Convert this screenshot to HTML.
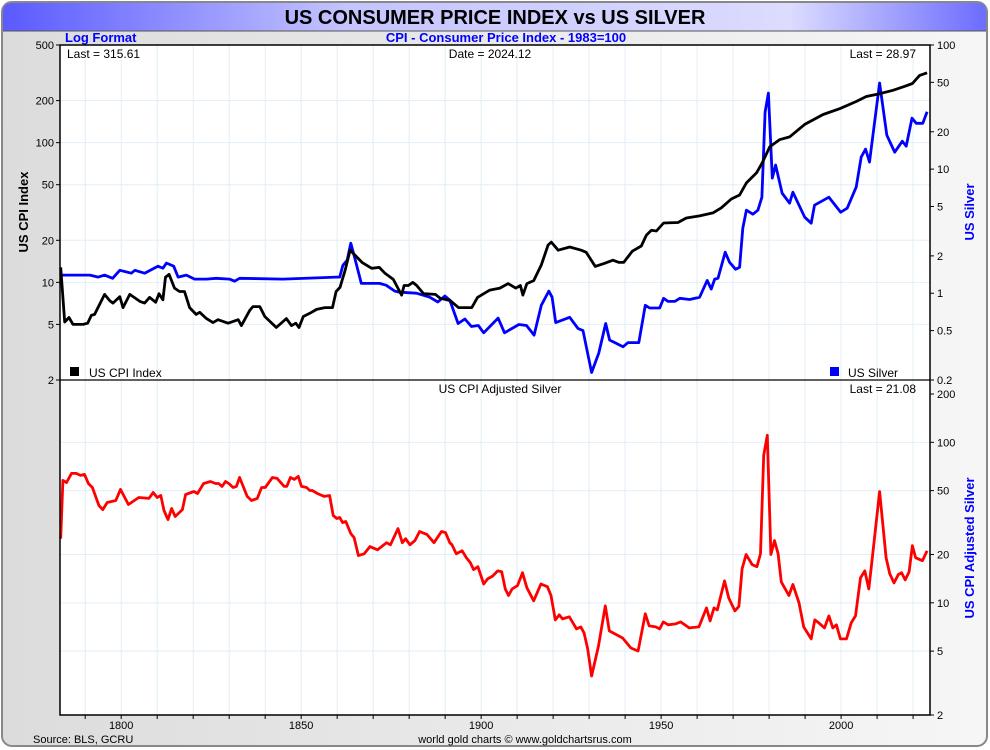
<!DOCTYPE html>
<html><head><meta charset="utf-8">
<style>
body{margin:0;background:#fff;width:990px;height:750px;overflow:hidden;font-family:"Liberation Sans",sans-serif;}
svg{display:block}
text{font-family:"Liberation Sans",sans-serif}
</style></head>
<body>
<svg id="chart" width="990" height="750" viewBox="0 0 990 750">
<defs>
<linearGradient id="bgG" x1="0" x2="1" y1="0" y2="0"><stop offset="0" stop-color="#dcdcdc"/><stop offset="1" stop-color="#f6f6f6"/></linearGradient>
<linearGradient id="titleG" x1="0" x2="1" y1="0" y2="0"><stop offset="0" stop-color="#5a5aff"/><stop offset="0.35" stop-color="#c4c4ff"/><stop offset="0.8" stop-color="#dcdcff"/><stop offset="1" stop-color="#6c6cff"/></linearGradient>
</defs>
<rect x="2" y="2" width="985" height="744" rx="10" fill="url(#bgG)" stroke="#888" stroke-width="2"/>
<path d="M3,31 L3,12 Q3,3 12,3 L977,3 Q986,3 986,12 L986,31 Z" fill="url(#titleG)"/>
<line x1="3" y1="31" x2="986" y2="31" stroke="#555" stroke-width="1"/>
<text x="495" y="24" text-anchor="middle" font-size="20" font-weight="bold" fill="#000">US CONSUMER PRICE INDEX vs US SILVER</text>
<text x="65" y="42" font-size="13" font-weight="bold" fill="#0000ff">Log Format</text>
<text x="506" y="42" text-anchor="middle" font-size="13" font-weight="bold" fill="#0000ff">CPI - Consumer Price Index - 1983=100</text>
<rect x="60" y="45" width="870" height="670" fill="#fff"/>
<g id="grid"></g>
<g id="series"></g>
<rect x="60" y="45" width="870" height="670" fill="none" stroke="#000" stroke-width="1.5"/>
<line x1="60" y1="380" x2="930" y2="380" stroke="#000" stroke-width="1.2"/>
<g id="axes"></g>
<text x="67" y="58" font-size="12" fill="#000">Last = 315.61</text>
<text x="490" y="58" text-anchor="middle" font-size="12" fill="#000">Date = 2024.12</text>
<text x="916" y="58" text-anchor="end" font-size="12" fill="#000">Last = 28.97</text>
<text x="500" y="393" text-anchor="middle" font-size="12" fill="#000">US CPI Adjusted Silver</text>
<text x="916" y="393" text-anchor="end" font-size="12" fill="#000">Last = 21.08</text>
<g><rect x="70" y="367" width="9" height="9" fill="#000"/><text x="89" y="377" font-size="12">US CPI Index</text></g>
<g><rect x="830" y="367" width="9" height="9" fill="#0000ff"/><text x="848" y="377" font-size="12">US Silver</text></g>
<text transform="translate(28,212) rotate(-90)" text-anchor="middle" font-size="13" font-weight="bold" fill="#000">US CPI Index</text>
<text transform="translate(974,212) rotate(-90)" text-anchor="middle" font-size="13" font-weight="bold" fill="#0000ff">US Silver</text>
<text transform="translate(974,548) rotate(-90)" text-anchor="middle" font-size="13" font-weight="bold" fill="#0000ff">US CPI Adjusted Silver</text>
<text x="33" y="743" font-size="11" fill="#000">Source: BLS, GCRU</text>
<text x="525" y="743" text-anchor="middle" font-size="11" fill="#000">world gold charts © www.goldchartsrus.com</text>
</svg>
<script>
const cpiYears=[1783.2,1784.3,1785.5,1786.6,1789.4,1790.7,1791.7,1792.6,1795.4,1796.8,1797.7,1799.6,1800.5,1802.4,1805.2,1806.5,1807.9,1809.6,1810.5,1811.6,1812.3,1813.3,1814.8,1816.2,1817.6,1819,1820.8,1821.8,1823.7,1825.5,1826.9,1829.7,1832.5,1833.4,1835.7,1836.6,1838.5,1839.9,1843.1,1845.9,1847.3,1848.5,1849.4,1850.6,1852.4,1854.3,1856.6,1858.7,1859.7,1860.8,1862.2,1863.6,1865,1866.9,1869.6,1871.7,1873.3,1875.6,1877.9,1878.6,1879.8,1881,1882.1,1884,1887.3,1888.6,1891.4,1893.7,1897.4,1899,1900.7,1902.4,1905.2,1907.5,1909.6,1910.9,1911.6,1912.7,1914.6,1916.7,1918.6,1919.5,1921.4,1924.6,1927.8,1929.2,1931.7,1934.3,1936.6,1938.3,1939.6,1942,1944.5,1945.9,1947.3,1948.7,1950.7,1954.7,1957,1960.7,1964.4,1966.7,1969.5,1971.8,1973.7,1976.5,1978.1,1980.2,1982.9,1985.7,1989.9,1995,1999.6,2004.2,2007,2010.7,2014.4,2017.7,2019.8,2021.8,2023.9];
const cpiValues=[12.8,5.2,5.6,5.0,5.0,5.1,5.8,5.9,8.2,7.4,7.1,7.9,6.6,8.2,7.3,7.1,7.8,7.2,8.3,7.5,10.9,11.4,9.1,8.6,8.6,6.6,5.9,6.1,5.5,5.15,5.4,5.1,5.4,4.9,6.3,6.7,6.7,5.7,4.75,5.5,4.9,5.1,4.75,5.7,6.0,6.4,6.6,6.6,8.6,9.2,12.2,17.0,15.6,13.9,12.6,12.8,11.6,10.5,8.1,9.5,9.5,10,9.5,8.3,8.2,7.7,7.4,6.6,6.6,7.8,8.3,8.8,9.1,9.8,9.1,9.5,8.1,9.8,10.3,13.3,18.5,19.4,17.0,17.9,17.0,16.4,13.0,13.7,14.4,13.9,13.9,16.7,18.2,21.8,23.6,23.3,26.6,26.8,28.9,29.9,31.4,34.1,39.5,42.2,51.5,60.7,71.8,93.5,105,110,135,159,175,197,214,224,237,253,265,303,316];
const silverYears=[1783.2,1785.7,1791.3,1793.6,1795.4,1797.6,1799.6,1802.8,1803.8,1806.5,1810.2,1811.6,1812.6,1814.6,1815.8,1818.1,1820.4,1823.7,1826.4,1830.1,1831.5,1832.9,1844.9,1859.8,1860.7,1861.6,1862.8,1863.8,1864.9,1866.7,1871.8,1873.6,1876,1877.4,1882,1885.7,1888,1889.9,1891.3,1893.6,1895.5,1897.3,1899.2,1900.7,1904.7,1906.5,1910.5,1912.6,1914.7,1916.7,1918.8,1919.7,1920.7,1924.6,1926.9,1928.3,1930.7,1932.7,1934.6,1935.7,1939.4,1940.8,1943.8,1945.6,1946.8,1949.6,1950.7,1951.9,1953.8,1955.2,1957.9,1960.7,1962.8,1963.9,1964.9,1965.8,1967.8,1969,1970.7,1971.8,1972.7,1973.7,1975.5,1976.9,1978,1978.9,1979.8,1980.9,1981.8,1983.6,1985.7,1986.6,1989.9,1991.7,1992.6,1996.6,1999.9,2001.7,2004.2,2005.6,2006.8,2007.9,2010.7,2012.7,2014.9,2017,2018.1,2019.7,2020.9,2022.7,2023.9];
const silverValues=[1.40,1.40,1.40,1.35,1.40,1.32,1.53,1.45,1.53,1.45,1.65,1.59,1.75,1.65,1.35,1.40,1.30,1.30,1.32,1.30,1.25,1.32,1.30,1.35,1.35,1.68,1.85,2.53,1.92,1.20,1.20,1.16,1.04,1.02,1.00,0.93,0.85,0.95,0.88,0.57,0.62,0.54,0.55,0.48,0.63,0.48,0.56,0.55,0.46,0.80,1.04,0.93,0.58,0.64,0.52,0.50,0.23,0.33,0.57,0.42,0.37,0.40,0.40,0.80,0.76,0.76,0.91,0.86,0.86,0.91,0.89,0.93,1.27,1.08,1.30,1.32,2.14,1.78,1.56,1.62,3.34,4.67,4.33,4.67,5.94,28.8,41,8.46,10.8,6.41,5.32,6.52,4.10,3.67,5.12,5.94,4.50,4.84,7.17,12.5,14.5,11.4,49.4,18.8,13.7,16.8,15.3,25.7,23.4,23.4,28.97];
const adjYears=[1783.2,1783.8,1784.8,1786.2,1787.5,1788.7,1789.8,1790.9,1792,1793.8,1794.9,1796.1,1798.5,1799.8,1802,1804.9,1807.7,1808.9,1810,1811,1811.9,1813,1814,1815,1817,1817.9,1820.2,1821.2,1822.9,1824.8,1826.2,1827.1,1828,1829,1829.9,1831.1,1832,1832.9,1835,1836.2,1837.8,1839,1840,1842,1843.3,1845.3,1846,1847,1848.1,1849.2,1850.1,1851.5,1852.4,1853.1,1854.5,1856.4,1857.9,1858.9,1859.9,1860.7,1861.5,1862.4,1863.8,1864.7,1865.9,1867.5,1869.1,1871.2,1873.7,1874.8,1876.9,1878.1,1879,1880.2,1881.6,1882.9,1885,1886.9,1889,1890.1,1891.3,1891.9,1893.1,1894.7,1895.9,1897,1897.9,1899.1,1900.7,1901.8,1903.2,1904.6,1905.7,1906.7,1907.6,1908.6,1910.1,1911.5,1912.7,1914.6,1916.6,1918.4,1919.4,1920.6,1921.7,1922.6,1924.5,1926.5,1927.7,1928.6,1929.6,1930.7,1932.6,1934.5,1935.6,1939.3,1941.6,1943.6,1945.6,1946.7,1948.5,1949.6,1950.6,1952,1954,1955.4,1957.8,1960.5,1962.6,1963.6,1964.7,1965.6,1967.6,1968.8,1970.5,1971.6,1972.5,1973.6,1975.3,1976.6,1977.6,1978.5,1979.5,1980.5,1981.5,1982.5,1983.4,1985.5,1986.6,1988.3,1989.6,1991.7,1992.7,1993.8,1995.4,1996.6,1997.7,1998.7,1999.8,2001.5,2002.8,2004,2005.4,2006.6,2007.7,2008.6,2010.7,2012.5,2013.5,2014.7,2015.9,2016.8,2017.8,2018.9,2019.8,2020.7,2022.6,2023.9];
const adjValues=[25.1,57.9,56.2,64.0,64.0,62.2,63.1,55.4,52.3,40.4,38.1,42.2,43.4,50.9,41.0,45.3,44.7,48.7,45.3,46.6,37.6,33.0,38.7,34.5,38.1,47.3,49.4,48.0,55.4,57.0,55.4,55.4,53.1,57.0,55.4,52.3,53.1,60.4,46.0,43.4,44.7,52.3,52.3,60.4,59.6,53.1,53.1,60.4,58.7,61.3,53.1,52.3,50.1,50.1,48.0,46.0,46.6,35.0,33.5,34.0,31.6,32.1,27.0,25.5,19.7,20.2,22.4,21.4,23.7,23.0,29.0,23.7,25.1,23.0,24.4,27.8,26.6,23.7,27.8,27.4,23.7,23.0,20.2,21.1,19.1,17.8,16.1,16.8,13.1,14.1,14.7,15.8,15.6,12.2,11.1,12.2,12.8,15.4,12.4,10.3,13.1,12.6,11.1,7.83,8.41,7.94,8.18,6.88,7.08,6.49,5.16,3.50,5.39,9.57,6.68,6.04,5.23,5.01,8.54,7.18,7.08,6.88,7.61,7.29,7.39,7.61,6.98,7.08,9.30,7.72,9.30,9.04,13.7,10.7,8.91,9.51,16.3,20.0,17.3,16.8,20.2,82.9,110.6,20.0,24.4,20.2,13.5,11.1,13.0,10.0,7.08,5.96,7.83,7.50,6.98,8.29,6.98,7.29,5.96,5.96,7.50,8.29,14.3,15.8,12.2,18.3,49.4,19.1,15.2,13.3,15.0,15.4,13.9,15.6,22.7,19.1,18.3,21.08];
const xTickYears=[1800,1850,1900,1950,2000];
const cpiTicks=[500,200,100,50,20,10,5,2];
const silverTicks=[100,50,20,10,5,2,1,0.5,0.2];
const adjTicks=[200,100,50,20,10,5,2];

const NS='http://www.w3.org/2000/svg';
const X0=60,X1=930,Y0=45,YM=380,YB=715;
const yrMin=1783,yrMax=2024.7;
const xScale=y=>X0+(y-yrMin)/(yrMax-yrMin)*(X1-X0);
function logScale(vmin,vmax,top,bot){const a=Math.log10(vmin),b=Math.log10(vmax);return v=>bot-(Math.log10(v)-a)/(b-a)*(bot-top);}
const yCpi=logScale(2,500,Y0,YM);
const ySil=logScale(0.2,100,Y0,YM);
const yAdj=logScale(2,200,YM+14,YB);
function el(tag,attrs,parent){const e=document.createElementNS(NS,tag);for(const k in attrs)e.setAttribute(k,attrs[k]);parent.appendChild(e);return e;}
const grid=document.getElementById('grid'),axes=document.getElementById('axes'),series=document.getElementById('series');
for(let yr=1790;yr<=2020;yr+=10){
  const x=xScale(yr);
  const g=el('line',{x1:x,x2:x,y1:Y0,y2:YB,stroke:'#e2eef8','stroke-width':1},grid);
  
  
  const t=el('line',{x1:x,x2:x,y1:YB,y2:YB+4,stroke:'#000','stroke-width':1},axes);
  
  
}
xTickYears.forEach(yr=>{
  const t=el('text',{x:xScale(yr),y:729,'text-anchor':'middle','font-size':11},axes);
  t.textContent=yr;
  
  
});
cpiTicks.forEach(v=>{
  const y=yCpi(v);
  if(v!==500&&v!==2){const g=el('line',{x1:X0,x2:X1,y1:y,y2:y,stroke:'#e2eef8','stroke-width':1},grid);}
  el('line',{x1:X0-4,x2:X0,y1:y,y2:y,stroke:'#000'},axes);
  const t=el('text',{x:X0-6,y:y+4,'text-anchor':'end','font-size':11},axes);
  t.textContent=v;
  
  
});
silverTicks.forEach(v=>{
  const y=ySil(v);
  el('line',{x1:X1,x2:X1+4,y1:y,y2:y,stroke:'#000'},axes);
  const t=el('text',{x:X1+7,y:y+4,'font-size':11},axes);
  t.textContent=v;
  
  
});
adjTicks.forEach(v=>{
  const y=yAdj(v);
  if(v!==2&&v!==200){const g=el('line',{x1:X0,x2:X1,y1:y,y2:y,stroke:'#e2eef8','stroke-width':1},grid);}
  el('line',{x1:X1,x2:X1+4,y1:y,y2:y,stroke:'#000'},axes);
  const t=el('text',{x:X1+7,y:y+4,'font-size':11},axes);
  t.textContent=v;
  
  
});
function line(years,vals,ys,color){
  const d=years.map((yr,i)=>(i?'L':'M')+xScale(yr).toFixed(1)+','+ys(vals[i]).toFixed(1)).join(' ');
  return el('path',{d:d,fill:'none',stroke:color,'stroke-width':2.8,'stroke-linejoin':'round'},series);
}
const pS=line(silverYears,silverValues,ySil,'#0000ff');


const pC=line(cpiYears,cpiValues,yCpi,'#000000');


const pA=line(adjYears,adjValues,yAdj,'#ff0000');


</script>
</body></html>
